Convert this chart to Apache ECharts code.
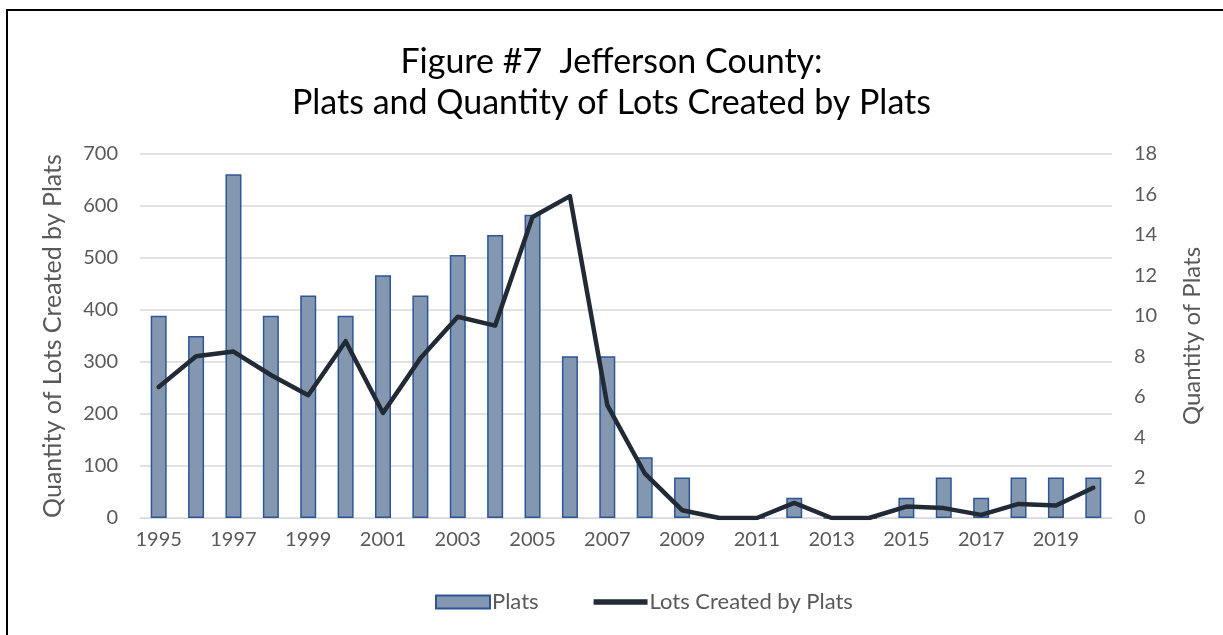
<!DOCTYPE html>
<html>
<head>
<meta charset="utf-8">
<script src="https://cdn.jsdelivr.net/npm/echarts@6/dist/echarts.min.js"></script>
<style>
  html, body { margin: 0; padding: 0; background: #fff; overflow: hidden; }
  .frame {
    position: absolute; left: 6px; top: 9px; width: 1300px; height: 700px;
    border-left: 2px solid #000; border-top: 2px solid #000;
  }
  #chart { position: absolute; left: 0; top: 0; width: 1223px; height: 635px; }
</style>
</head>
<body>
<div class="frame"></div>
<div id="chart"></div>
<script>
// 年份
var years = ['1995', '1996', '1997', '1998', '1999', '2000', '2001', '2002', '2003', '2004',
  '2005', '2006', '2007', '2008', '2009', '2010', '2011', '2012', '2013', '2014',
  '2015', '2016', '2017', '2018', '2019', '2020'];
// Plats (right axis)
var plats = [10, 9, 17, 10, 11, 10, 12, 11, 13, 14, 15, 8, 8, 3, 2, 0, 0, 1, 0, 0, 1, 2, 1, 2, 2, 2];
// Lots created by plats (left axis)
var lots = [252, 311, 320, 275, 236, 340, 202, 307, 387, 370, 579, 619, 217, 86, 15, 0, 0, 29, 0, 0, 22, 19, 6, 27, 24, 58];

var titleLines = ['Figure #7  Jefferson County:', 'Plats and Quantity of Lots Created by Plats'];

var myChart = echarts.init(document.getElementById('chart'));
var font = 'Lato, "Open Sans", sans-serif';

var option = {
  animation: false,
  textStyle: { fontFamily: font },
  title: {
    text: titleLines.join('\n'),
    left: 'center',
    top: 37,
    textStyle: { fontSize: 34, fontWeight: 'normal', color: '#000', lineHeight: 41, fontFamily: font }
  },
  legend: {
    bottom: 17,
    left: 430,
    itemGap: 55,
    itemWidth: 54,
    itemHeight: 13,
    textStyle: { color: '#595959', fontSize: 22, fontFamily: font, padding: [0, 0, 0, -3] },
    data: [
      { name: 'Plats', icon: 'rect' },
      { name: 'Lots Created by Plats', icon: 'path://M0,0 H100 V10 H0 Z', itemStyle: { color: '#222a35' } }
    ]
  },
  grid: { left: 140, right: 111, top: 154, bottom: 117 },
  xAxis: {
    type: 'category',
    data: years,
    axisTick: { show: false },
    axisLine: { lineStyle: { color: '#d9d9d9', width: 1 } },
    axisLabel: { color: '#595959', fontSize: 20, interval: 1, margin: 12 }
  },
  yAxis: [
    {
      type: 'value',
      min: 0, max: 700, interval: 100,
      name: 'Quantity of Lots Created by Plats',
      nameLocation: 'middle',
      nameGap: 75,
      nameTextStyle: { color: '#595959', fontSize: 25, fontFamily: font },
      axisLabel: { color: '#595959', fontSize: 20, margin: 22 },
      splitLine: { lineStyle: { color: '#d9d9d9', width: 1.5 } },
      axisLine: { show: false },
      axisTick: { show: false }
    },
    {
      type: 'value',
      min: 0, max: 18, interval: 2,
      name: 'Quantity of Plats',
      nameLocation: 'middle',
      nameGap: 68,
      nameTextStyle: { color: '#595959', fontSize: 24, fontFamily: font },
      axisLabel: { color: '#595959', fontSize: 20, margin: 22 },
      splitLine: { show: false },
      axisLine: { show: false },
      axisTick: { show: false }
    }
  ],
  series: [
    {
      name: 'Plats',
      type: 'bar',
      yAxisIndex: 1,
      barWidth: 16,
      itemStyle: { color: '#8497b0', borderColor: '#2f5597', borderWidth: 1.5 },
      data: plats
    },
    {
      name: 'Lots Created by Plats',
      type: 'line',
      yAxisIndex: 0,
      symbol: 'none',
      lineStyle: { color: '#222a35', width: 4.5, cap: 'round', join: 'round' },
      itemStyle: { color: '#222a35' },
      data: lots
    }
  ]
};

myChart.setOption(option);
</script>
</body>
</html>
